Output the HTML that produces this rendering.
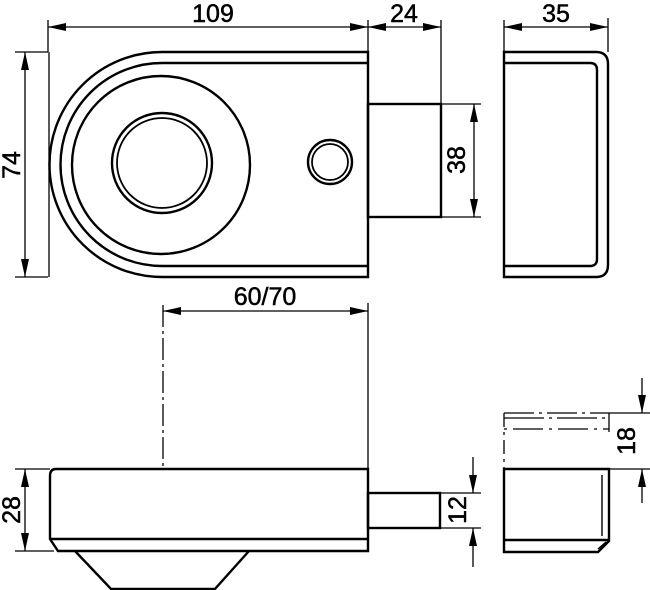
<!DOCTYPE html>
<html><head><style>html,body{margin:0;padding:0;background:#fff;}svg{display:block}</style></head>
<body>
<svg width="650" height="590" viewBox="0 0 650 590" xmlns="http://www.w3.org/2000/svg" font-family="Liberation Sans, sans-serif" font-size="25" fill="none" stroke="#000">
<defs>
<marker id="a" markerWidth="18" markerHeight="8" refX="18" refY="4" orient="auto-start-reverse" markerUnits="userSpaceOnUse"><path d="M0,0 L18,4 L0,8 Z" fill="#000" stroke="none"/></marker>
</defs>
<g stroke-width="1.3">
<line x1="48" y1="20" x2="48" y2="52"/>
<line x1="368" y1="20" x2="368" y2="52"/>
<line x1="441" y1="20" x2="441" y2="104"/>
<line x1="15" y1="52" x2="48" y2="52"/>
<line x1="15" y1="277" x2="48" y2="277"/>
<line x1="48" y1="27" x2="368" y2="27" marker-start="url(#a)" marker-end="url(#a)"/>
<line x1="368" y1="27" x2="441" y2="27" marker-start="url(#a)" marker-end="url(#a)"/>
<line x1="25" y1="52" x2="25" y2="277" marker-start="url(#a)" marker-end="url(#a)"/>
<line x1="441" y1="104" x2="481" y2="104"/>
<line x1="441" y1="217" x2="481" y2="217"/>
<line x1="474" y1="104" x2="474" y2="217" marker-start="url(#a)" marker-end="url(#a)"/>
<line x1="504" y1="20" x2="504" y2="52"/>
<line x1="608" y1="18" x2="608" y2="52"/>
<line x1="504" y1="27" x2="608" y2="27" marker-start="url(#a)" marker-end="url(#a)"/>
<line x1="49" y1="52" x2="49" y2="277"/>
</g>
<g stroke-width="2.4">
<path d="M368 52 H162 A112.5 112.5 0 0 0 162 277 H368 Z"/>
<path d="M368 63 H162 A101.5 101.5 0 0 0 162 266 H368"/>
<circle cx="161" cy="165" r="89"/>
<circle cx="162" cy="163" r="50"/>
<circle cx="162" cy="163" r="45" stroke-width="1.8"/>
<circle cx="330" cy="162" r="22"/>
<circle cx="330" cy="162" r="18" stroke-width="1.8"/>
<rect x="368" y="104" width="73" height="113"/>
<path d="M504 52 H596 Q608 52 608 64 V265 Q608 277 596 277 H504 Z"/>
<path d="M504 63 H590 Q597 63 597 70 V259 Q597 266 590 266 H504"/>
</g>
<g fill="#000" stroke="#000" stroke-width="0.5">
<text x="213" y="22" text-anchor="middle">109</text>
<text x="404" y="22" text-anchor="middle">24</text>
<text x="556" y="22" text-anchor="middle">35</text>
<text transform="translate(20,165) rotate(-90)" text-anchor="middle">74</text>
<text transform="translate(465,160) rotate(-90)" text-anchor="middle">38</text>
<text x="265" y="305" text-anchor="middle">60/70</text>
<text transform="translate(20,510) rotate(-90)" text-anchor="middle">28</text>
<text transform="translate(466,510) rotate(-90)" text-anchor="middle">12</text>
<text transform="translate(635,441) rotate(-90)" text-anchor="middle">18</text>
</g>
<g stroke-width="1.3">
<line x1="163" y1="311" x2="368" y2="311" marker-start="url(#a)" marker-end="url(#a)"/>
<line x1="163" y1="305" x2="163" y2="469" stroke-dasharray="22,4,3,4"/>
<line x1="368" y1="303" x2="368" y2="469"/>
<line x1="15" y1="469" x2="50" y2="469"/>
<line x1="15" y1="551" x2="54" y2="551"/>
<line x1="25" y1="469" x2="25" y2="551" marker-start="url(#a)" marker-end="url(#a)"/>
<line x1="440" y1="493" x2="481" y2="493"/>
<line x1="440" y1="528" x2="481" y2="528"/>
<line x1="473" y1="457" x2="473" y2="493" marker-end="url(#a)"/>
<line x1="473" y1="567" x2="473" y2="528" marker-end="url(#a)"/>
<line x1="609" y1="413" x2="650" y2="413"/>
<line x1="609" y1="469" x2="650" y2="469"/>
<line x1="642" y1="378" x2="642" y2="413" marker-end="url(#a)"/>
<line x1="642" y1="503" x2="642" y2="469" marker-end="url(#a)"/>
<line x1="504" y1="413" x2="609" y2="413" stroke-dasharray="30,5,3,5"/>
<line x1="504" y1="418" x2="609" y2="418" stroke-dasharray="40,5,3,5"/>
<line x1="504" y1="429" x2="609" y2="429" stroke-dasharray="3,6,30,6"/>
<line x1="504" y1="413" x2="504" y2="469" stroke-dasharray="14,5,3,5"/>
<line x1="609" y1="413" x2="609" y2="432"/>
</g>
<g stroke-width="2.4">
<path d="M56 469 H368 V551 H58 L50 539 V476 Q50 469 56 469 Z"/>
<line x1="50" y1="539" x2="368" y2="539"/>
<path d="M75 551 L112 590 M249 551 L214 590 M112 589 H214"/>
<rect x="368" y="493" width="72" height="35"/>
<path d="M504 469 H609 V541 L598 552 H504 Z"/>
<line x1="504" y1="540" x2="609" y2="540"/>
<line x1="602" y1="475" x2="602" y2="536" stroke-width="1.4"/>
<line x1="598" y1="549" x2="606" y2="542" stroke-width="1.4"/>
</g>
</svg>
</body></html>
